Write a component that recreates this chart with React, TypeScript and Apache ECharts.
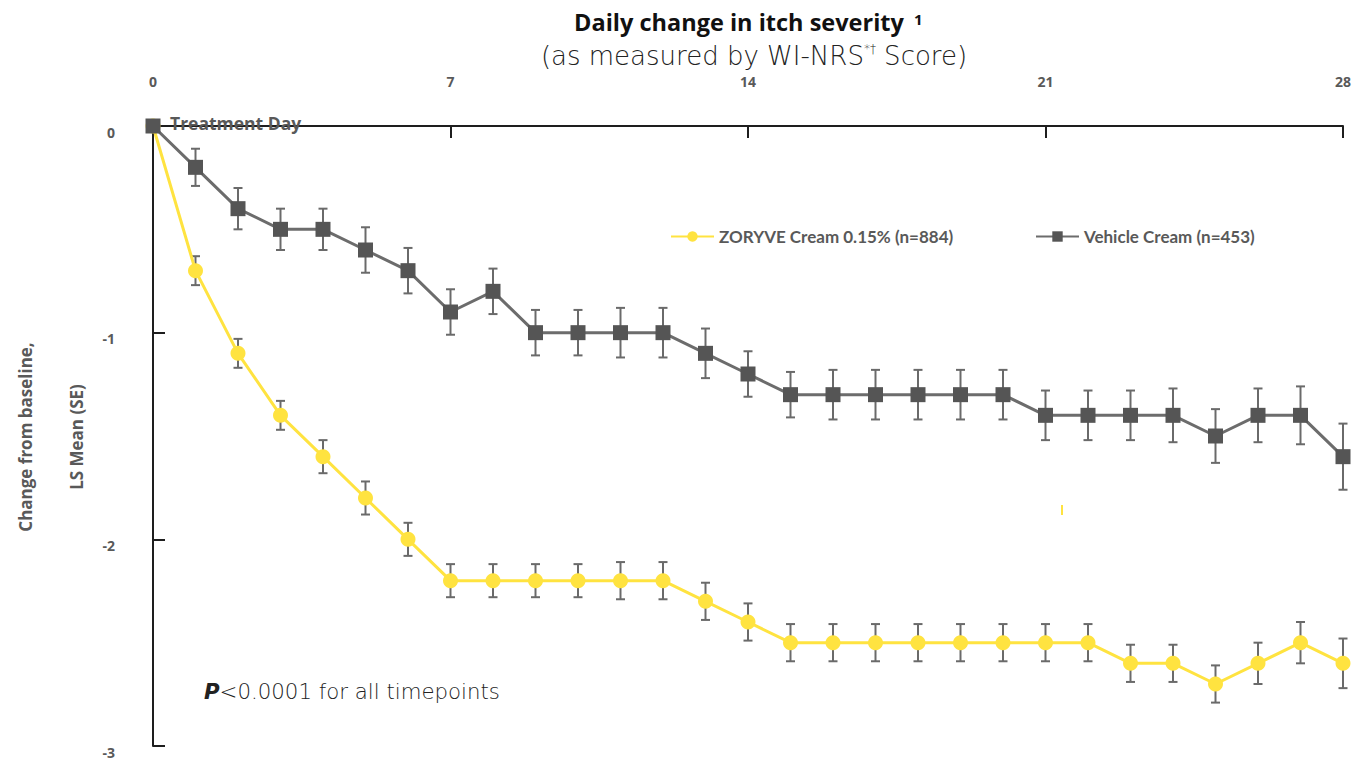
import React, { useEffect, useRef } from "react";
import * as echarts from "echarts";

const days = [0, 1, 2, 3, 4, 5, 6, 7, 8, 9, 10, 11, 12, 13, 14, 15, 16, 17, 18, 19, 20, 21, 22, 23, 24, 25, 26, 27, 28];
const zoryve = [0, -0.7, -1.1, -1.4, -1.6, -1.8, -2.0, -2.2, -2.2, -2.2, -2.2, -2.2, -2.2, -2.3, -2.4, -2.5, -2.5, -2.5, -2.5, -2.5, -2.5, -2.5, -2.5, -2.6, -2.6, -2.7, -2.6, -2.5, -2.6];
const zoryveSE = [0, 0.07, 0.07, 0.07, 0.08, 0.08, 0.08, 0.08, 0.08, 0.08, 0.08, 0.09, 0.09, 0.09, 0.09, 0.09, 0.09, 0.09, 0.09, 0.09, 0.09, 0.09, 0.09, 0.09, 0.09, 0.09, 0.1, 0.1, 0.12];
const vehicle = [0, -0.2, -0.4, -0.5, -0.5, -0.6, -0.7, -0.9, -0.8, -1.0, -1.0, -1.0, -1.0, -1.1, -1.2, -1.3, -1.3, -1.3, -1.3, -1.3, -1.3, -1.4, -1.4, -1.4, -1.4, -1.5, -1.4, -1.4, -1.6];
const vehicleSE = [0, 0.09, 0.1, 0.1, 0.1, 0.11, 0.11, 0.11, 0.11, 0.11, 0.11, 0.12, 0.12, 0.12, 0.11, 0.11, 0.12, 0.12, 0.12, 0.12, 0.12, 0.12, 0.12, 0.12, 0.13, 0.13, 0.13, 0.14, 0.16];
const xTicks = [0, 7, 14, 21, 28];
const yTicks = [0, -1, -2, -3];
const seriesNames = ["ZORYVE Cream 0.15% (n=884)", "Vehicle Cream (n=453)"];

const YELLOW = "#FFE340";
const GRAY_LINE = "#6c6c6c";
const GRAY_MARK = "#555555";
const TEXT_GRAY = "#595959";
const BOLD_FONT = "'Open Sans', Lato, sans-serif";
const LEGEND_FONT = "Lato, 'Open Sans', sans-serif";
const LIGHT_FONT = "'DejaVu Sans', 'Open Sans', sans-serif";

function errorSeries(name: string, values: number[], se: number[]) {
  return {
    type: "custom",
    name,
    silent: true,
    z: 1,
    encode: { x: 0, y: [1, 2] },
    data: days.map((d, i) => [d, values[i] - se[i], values[i] + se[i]]),
    renderItem: (_params: any, api: any) => {
      const x = api.value(0);
      const lo = api.value(1);
      const hi = api.value(2);
      if (Math.abs(hi - lo) < 1e-9) return null;
      const p1 = api.coord([x, lo]);
      const p2 = api.coord([x, hi]);
      const w = 4.5;
      const style = { stroke: "#6a6a6a", lineWidth: 2 };
      return {
        type: "group",
        children: [
          { type: "line", shape: { x1: p1[0], y1: p1[1], x2: p2[0], y2: p2[1] }, style },
          { type: "line", shape: { x1: p1[0] - w, y1: p1[1], x2: p1[0] + w, y2: p1[1] }, style },
          { type: "line", shape: { x1: p2[0] - w, y1: p2[1], x2: p2[0] + w, y2: p2[1] }, style },
        ],
      };
    },
  };
}

export default function App() {
  const ref = useRef<HTMLDivElement>(null);

  useEffect(() => {
    document.body.style.margin = "0";
    document.body.style.overflow = "hidden";
    if (!ref.current) return;
    const chart = echarts.init(ref.current, undefined, { renderer: "svg" });

    const legendText = {
      color: TEXT_GRAY,
      fontFamily: LEGEND_FONT,
      fontWeight: "bold" as const,
      fontSize: 17,
    };

    chart.setOption({
      animation: false,
      backgroundColor: "#ffffff",
      grid: { left: 153, right: 14, top: 126, bottom: 15, containLabel: false },
      legend: [
        {
          data: [seriesNames[0]],
          left: 670,
          top: 228,
          padding: 0,
          itemWidth: 43,
          itemHeight: 13,
          itemGap: 4,
          selectedMode: false,
          textStyle: legendText,
        },
        {
          data: [seriesNames[1]],
          left: 1035,
          top: 228,
          padding: 0,
          itemWidth: 43,
          itemHeight: 13,
          itemGap: 4,
          selectedMode: false,
          textStyle: legendText,
        },
      ],
      xAxis: {
        type: "value",
        position: "top",
        min: xTicks[0],
        max: xTicks[xTicks.length - 1],
        interval: 7,
        axisLine: { onZero: false, lineStyle: { color: "#1e1e1e", width: 2 } },
        axisTick: { inside: true, length: 12, lineStyle: { color: "#1e1e1e", width: 2 } },
        axisLabel: {
          margin: 38,
          color: TEXT_GRAY,
          fontFamily: BOLD_FONT,
          fontWeight: "bold",
          fontSize: 14,
          formatter: (v: number) => (xTicks.includes(v) ? String(v) : ""),
        },
        splitLine: { show: false },
      },
      yAxis: {
        type: "value",
        min: yTicks[yTicks.length - 1],
        max: yTicks[0],
        interval: 1,
        axisLine: { show: true, onZero: false, lineStyle: { color: "#1e1e1e", width: 2 } },
        axisTick: { show: true, inside: true, length: 12, lineStyle: { color: "#1e1e1e", width: 2 } },
        axisLabel: {
          margin: 38,
          color: TEXT_GRAY,
          fontFamily: BOLD_FONT,
          fontWeight: "bold",
          fontSize: 14,
          verticalAlign: "top",
          lineHeight: 12,
          formatter: (v: number) => String(v),
        },
        splitLine: { show: false },
      },
      series: [
        errorSeries("zoryve-se", zoryve, zoryveSE),
        errorSeries("vehicle-se", vehicle, vehicleSE),
        {
          type: "line",
          name: seriesNames[0],
          data: days.map((d, i) => [d, zoryve[i]]),
          symbol: "circle",
          symbolSize: 15,
          lineStyle: { color: YELLOW, width: 3 },
          itemStyle: { color: YELLOW },
          z: 3,
        },
        {
          type: "line",
          name: seriesNames[1],
          data: days.map((d, i) => [d, vehicle[i]]),
          symbol: "rect",
          symbolSize: 15,
          lineStyle: { color: GRAY_LINE, width: 3 },
          itemStyle: { color: GRAY_MARK },
          z: 4,
        },
      ],
      graphic: [
        {
          type: "text",
          x: 739,
          y: 22,
          style: {
            text: "Daily change in itch severity",
            align: "center",
            verticalAlign: "middle",
            fontFamily: BOLD_FONT,
            fontWeight: "bold",
            fontSize: 23.5,
            fill: "#111111",
          },
        },
        {
          type: "text",
          x: 914,
          y: 19,
          style: {
            text: "1",
            align: "left",
            verticalAlign: "middle",
            fontFamily: BOLD_FONT,
            fontWeight: "bold",
            fontSize: 15,
            fill: "#111111",
          },
        },
        {
          type: "text",
          x: 754,
          y: 56,
          style: {
            text: "(as measured by WI-NRS{s|*†} Score)",
            align: "center",
            verticalAlign: "middle",
            fontFamily: LIGHT_FONT,
            fontWeight: 200,
            fontSize: 26,
            fill: "#222222",
            rich: {
              s: {
                fontFamily: LIGHT_FONT,
                fontWeight: 200,
                fontSize: 12,
                fill: "#222222",
                verticalAlign: "top",
              },
            },
          },
        },
        {
          type: "text",
          x: 170,
          y: 123,
          z: 100,
          style: {
            text: "Treatment Day",
            align: "left",
            verticalAlign: "middle",
            fontFamily: BOLD_FONT,
            fontWeight: "bold",
            fontSize: 17.5,
            fill: TEXT_GRAY,
          },
        },
        {
          type: "text",
          x: 204,
          y: 691,
          style: {
            text: "{i|P}<0.0001 for all timepoints",
            align: "left",
            verticalAlign: "middle",
            fontFamily: LIGHT_FONT,
            fontWeight: 200,
            fontSize: 21.3,
            fill: "#222222",
            rich: {
              i: {
                fontFamily: LIGHT_FONT,
                fontStyle: "italic",
                fontWeight: "bold",
                fontSize: 21.3,
                fill: "#222222",
              },
            },
          },
        },
        {
          type: "text",
          x: 25,
          y: 437,
          rotation: Math.PI / 2,
          style: {
            text: "Change from baseline,",
            align: "center",
            verticalAlign: "middle",
            fontFamily: BOLD_FONT,
            fontWeight: "bold",
            fontSize: 17,
            fill: TEXT_GRAY,
          },
        },
        {
          type: "text",
          x: 76,
          y: 437,
          rotation: Math.PI / 2,
          style: {
            text: "LS Mean (SE)",
            align: "center",
            verticalAlign: "middle",
            fontFamily: BOLD_FONT,
            fontWeight: "bold",
            fontSize: 17,
            fill: TEXT_GRAY,
          },
        },
        {
          type: "rect",
          shape: { x: 1061, y: 505, width: 2, height: 10 },
          style: { fill: YELLOW },
        },
      ],
    });

    return () => {
      chart.dispose();
    };
  }, []);

  return <div ref={ref} style={{ width: 1357, height: 761 }} />;
}
